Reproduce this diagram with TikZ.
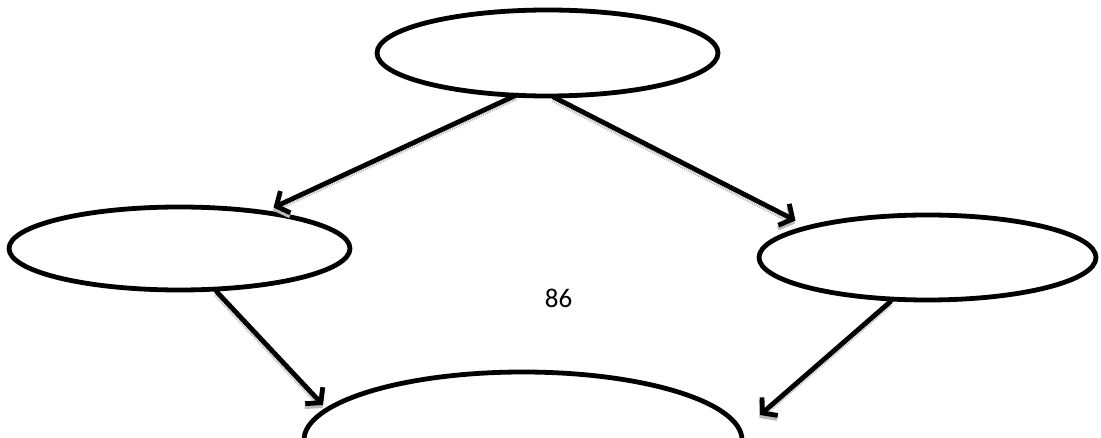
\documentclass[tikz,border=0pt]{standalone}
\usepackage{fontspec}
\setmainfont{Carlito}
\usetikzlibrary{arrows.meta,calc,shapes.geometric}
\tikzset{
  oval/.style={ellipse,draw=black,line width=4.8pt,inner sep=0pt,fill=white},
  arr/.style={line width=4.8pt,-{Straight Barb[length=10pt,width=24pt,line width=4.8pt]},line cap=round,line join=round},
  arrshadow/.style={line width=4.8pt,draw=gray!55,dash pattern=on 1pt off 1pt,-{Straight Barb[length=10pt,width=24pt,line width=4.8pt]},transform canvas={xshift=-0.5pt,yshift=-3pt}}
}
\begin{document}
\begin{tikzpicture}[x=1pt,y=-1pt]
\useasboundingbox (0,0) rectangle (1101,438);
\node[oval,minimum width=341pt,minimum height=86pt] (top) at (547.5,53) {};
\node[oval,minimum width=341pt,minimum height=83pt] (left) at (179.5,248.5) {};
\node[oval,minimum width=337pt,minimum height=85pt] (right) at (927.5,257.5) {};
\node[oval,minimum width=438pt,minimum height=136pt] (bottom) at (523,440) {};
\coordinate (s1) at ($(top.center)+(-31pt,-42pt)$);
\coordinate (e1) at ($(left.center)+(94pt,41pt)$);
\coordinate (s2) at ($(top.center)+(6pt,-44pt)$);
\coordinate (e2) at ($(right.center)+(-132pt,37pt)$);
\coordinate (s3) at ($(left.center)+(37pt,-43pt)$);
\coordinate (e3) at ($(bottom.center)+(-200pt,35pt)$);
\coordinate (s4) at ($(right.center)+(-37pt,-44pt)$);
\coordinate (e4) at ($(bottom.center)+(237pt,25pt)$);
\foreach \a/\b in {s1/e1,s2/e2,s3/e3,s4/e4}{
  \draw[arrshadow] (\a) -- (\b);
}
\foreach \a/\b in {s1/e1,s2/e2,s3/e3,s4/e4}{
  \draw[arr] (\a) -- (\b);
}
\node[font=\fontsize{27}{32}\selectfont,inner sep=0pt] (num) at (558.5,298) {86};
\end{tikzpicture}
\end{document}
